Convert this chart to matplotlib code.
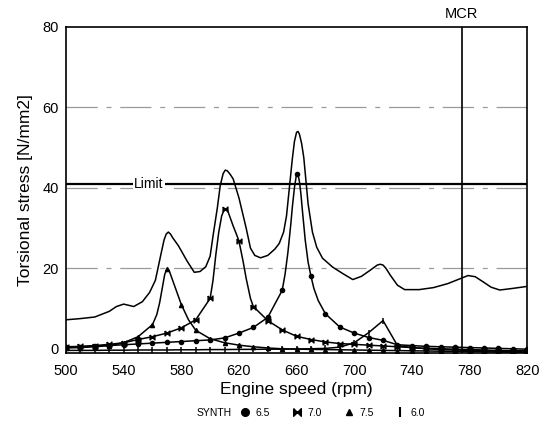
import matplotlib
matplotlib.use("Agg")
import matplotlib.pyplot as plt
from matplotlib.lines import Line2D

plt.rcParams['font.family'] = ['Liberation Sans', 'DejaVu Sans']

# synthesized envelope (no markers)
synth_rpm = [500, 510, 520, 530, 535, 540, 547, 553, 558, 562, 566, 568, 569.5, 571, 572.5,
             574, 578, 584, 589, 593, 597, 600, 602, 605, 607, 609, 610.5, 612, 614, 616,
             620, 625, 628, 631, 635, 640, 645, 648, 651, 653, 655, 657, 658.5, 660, 661,
             662, 663.5, 665, 668, 671, 674, 678, 685, 692, 699, 705, 711, 716, 718, 720,
             722, 725, 730, 735, 745, 755, 765, 772, 779, 784, 790, 795, 801, 810, 820]
synth_val = [7.2, 7.5, 7.9, 9.3, 10.5, 11.1, 10.5, 11.7, 14.0, 17.0, 23.7, 27.0, 28.5, 29.0, 28.5,
             27.6, 25.6, 21.8, 19.0, 19.2, 20.4, 23.0, 28.0, 35.0, 40.5, 43.5, 44.4, 44.2, 43.3, 42.2,
             37.5, 30.0, 25.0, 23.2, 22.6, 23.2, 24.8, 26.2, 29.0, 33.0, 40.0, 47.0, 51.5, 53.8, 54.0,
             53.3, 51.0, 47.5, 36.0, 29.0, 25.2, 22.5, 20.3, 18.7, 17.2, 18.0, 19.5, 20.8, 21.0, 20.8,
             20.0, 18.3, 15.8, 14.7, 14.7, 15.2, 16.2, 17.2, 18.2, 17.9, 16.5, 15.3, 14.6, 15.0, 15.5]

# order 6.5 (circles)
o65_rpm = [500, 510, 520, 530, 540, 550, 560, 570, 580, 590, 600, 610, 620, 630, 640, 650,
           652, 654, 656, 657, 658.5, 660, 661, 662, 663, 664, 666, 668, 670, 672, 675, 680,
           690, 700, 710, 720, 730, 740, 750, 760, 770, 780, 790, 800, 810, 820]
o65_val = [0.4, 0.5, 0.7, 0.8, 1.0, 1.2, 1.4, 1.6, 1.8, 2.0, 2.2, 2.7, 3.9, 5.3, 7.8, 14.5,
           18.5, 24.0, 31.0, 35.0, 40.0, 43.5, 43.3, 41.5, 38.5, 34.5, 27.0, 21.5, 18.0, 15.0, 12.0, 8.7,
           5.4, 3.9, 2.8, 2.1, 1.0, 0.8, 0.6, 0.5, 0.4, 0.3, 0.2, 0.1, 0.0, -0.1]

# order 7.0 (bowtie)
o70_rpm = [500, 510, 520, 530, 540, 550, 560, 570, 580, 590, 600, 602, 604, 606, 608, 610,
           612, 614, 616, 618, 620, 623, 625, 628, 630, 640, 650, 660, 670, 680, 690, 700,
           710, 720, 730, 740, 750, 760, 770, 780, 790, 800, 810, 820]
o70_val = [0.5, 0.6, 0.8, 1.1, 1.5, 2.3, 3.0, 3.9, 5.2, 7.2, 12.5, 17.0, 23.5, 29.0, 33.0, 34.8,
           34.5, 32.5, 30.5, 28.7, 26.8, 21.5, 17.5, 12.5, 10.5, 7.0, 4.7, 3.1, 2.3, 1.7, 1.3, 1.1,
           0.9, 0.7, 0.5, 0.3, 0.1, 0.0, -0.1, -0.2, -0.3, -0.4, -0.5, -0.5]

# order 7.5 (triangles)
o75_rpm = [500, 510, 520, 530, 540, 550, 560, 563, 565, 567, 568.5, 570, 571.5, 573, 575, 577,
           580, 585, 590, 600, 610, 620, 630, 640, 650, 660, 670, 680, 690, 700, 710, 720,
           730, 740, 750, 760, 770, 780, 790, 800, 810, 820]
o75_val = [0.2, 0.3, 0.5, 0.8, 1.5, 3.0, 6.0, 8.5, 11.5, 15.5, 18.5, 19.8, 19.5, 18.0, 16.0, 14.0,
           11.0, 7.2, 4.6, 2.5, 1.5, 0.9, 0.5, 0.2, 0.0, -0.1, -0.15, -0.2, -0.25, -0.3, -0.35, -0.4,
           -0.45, -0.5, -0.55, -0.6, -0.65, -0.7, -0.75, -0.8, -0.85, -0.9]

# order 6.0 (vertical bars)
o60_rpm = [500, 510, 520, 530, 540, 550, 560, 570, 580, 590, 600, 610, 620, 630, 640, 650,
           660, 670, 680, 690, 700, 710, 720, 730, 740, 750, 760, 770, 780, 790, 800, 810, 820]
o60_val = [-0.4, -0.4, -0.4, -0.35, -0.35, -0.3, -0.3, -0.3, -0.25, -0.25, -0.2, -0.2, -0.15, -0.15, -0.1, -0.1,
           -0.05, 0.0, 0.1, 0.4, 1.5, 4.0, 7.0, 0.8, 0.3, 0.0, -0.2, -0.3, -0.4, -0.5, -0.6, -0.7, -0.8]

limit = 41
mcr = 774.5
xticks = [500, 540, 580, 620, 660, 700, 740, 780, 820]
yticks = [0, 20, 40, 60, 80]

bowtie = [(-1, 1), (-1, -1), (1, 1), (1, -1), (-1, 1)]

fig = plt.figure(figsize=(5.47, 4.23), dpi=100)
ax = fig.add_axes([0.1207, 0.165, 0.843, 0.7716])

def every10(rpm):
    return [i for i, r in enumerate(rpm) if r % 10 == 0]

for y in [20, 40, 60]:
    ax.axhline(y, color='#9a9a9a', lw=0.9, dashes=(25, 7, 4, 7), zorder=1)

ax.axhline(limit, color='black', lw=1.6, zorder=2)
ax.text(557.5, limit, 'Limit', ha='center', va='center', fontsize=10,
        bbox=dict(facecolor='white', edgecolor='none', pad=1.0), zorder=3)
ax.axvline(mcr, color='black', lw=1.2, zorder=2)

ax.plot(synth_rpm, synth_val, color='black', lw=1.1, zorder=4)
ax.plot(o65_rpm, o65_val, color='black', lw=1.1, marker='o', ms=3,
        markevery=every10(o65_rpm), zorder=4)
ax.plot(o70_rpm, o70_val, color='black', lw=1.1, marker=bowtie, ms=3.5,
        markevery=every10(o70_rpm), zorder=4)
ax.plot(o75_rpm, o75_val, color='black', lw=1.1, marker='^', ms=3,
        markevery=every10(o75_rpm), zorder=4)
ax.plot(o60_rpm, o60_val, color='black', lw=1.1, marker='|', ms=5, mew=1.1,
        markevery=every10(o60_rpm), zorder=4)

ax.set_xlim(500, 820)
ax.set_ylim(-1.1, 80)
ax.set_xticks(xticks)
ax.set_yticks(yticks)
ax.tick_params(length=0, labelsize=10.5)
ax.tick_params(axis='x', pad=8)
ax.tick_params(axis='y', pad=5)
for s in ax.spines.values():
    s.set_linewidth(1.2)

ax.set_xlabel('Engine speed (rpm)', fontsize=12.5, labelpad=3)
ax.set_ylabel('Torsional stress [N/mm2]', fontsize=12.5, labelpad=7)
ax.text(mcr, 83.2, 'MCR', ha='center', va='center', fontsize=10.5)

fig.text(0.36, 0.0236, 'SYNTH', fontsize=7.5, va='center')
handles = [
    Line2D([], [], color='black', marker='o', ls='none', ms=5.5),
    Line2D([], [], color='black', marker=bowtie, ls='none', ms=5.5),
    Line2D([], [], color='black', marker='^', ls='none', ms=5),
    Line2D([], [], color='black', marker='|', ls='none', ms=7, mew=1.5),
]
fig.legend(handles, ['6.5', '7.0', '7.5', '6.0'], loc='center', bbox_to_anchor=(0.6077, 0.0236),
           ncol=4, frameon=False, fontsize=7.5, handlelength=1.0, handletextpad=0.5,
           columnspacing=2.1, borderpad=0.0)

fig.savefig('out.png', dpi=100)
